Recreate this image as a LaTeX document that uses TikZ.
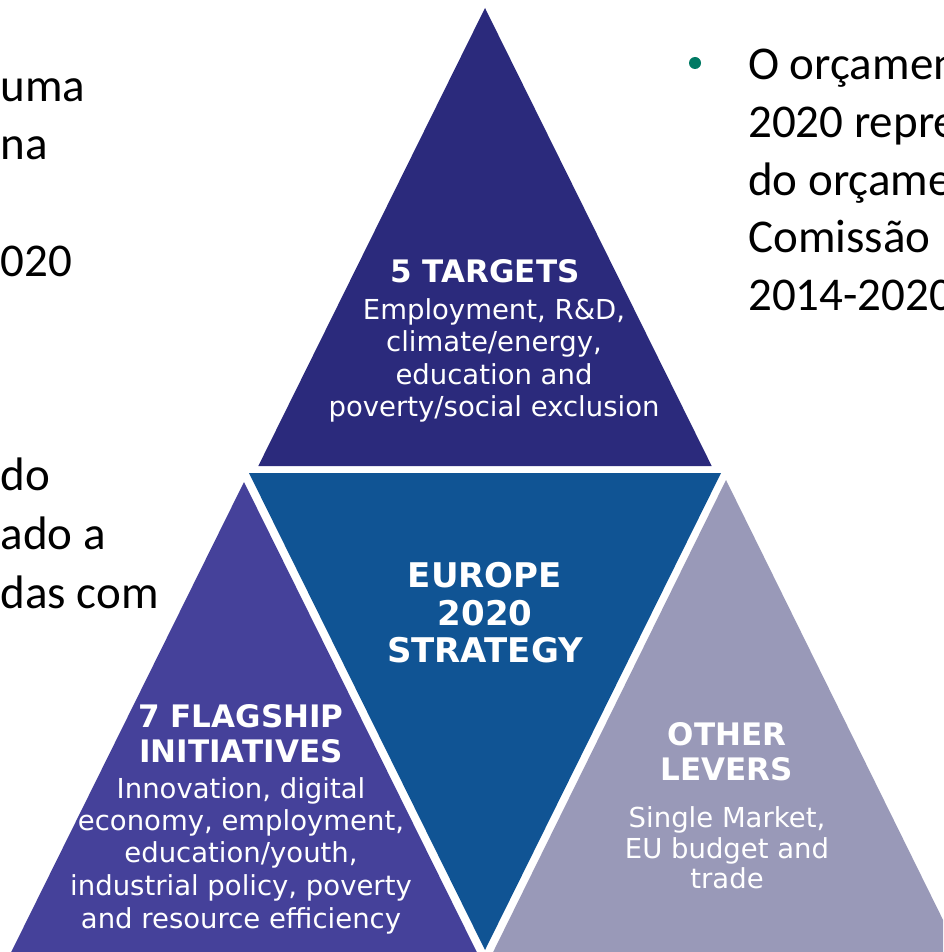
\documentclass[tikz,border=0pt]{standalone}
\usepackage{fontspec}
\setmainfont{Carlito}
\newfontfamily\dejavu{DejaVu Sans}
\definecolor{topc}{RGB}{43,42,124}
\definecolor{midc}{RGB}{16,84,148}
\definecolor{leftc}{RGB}{69,65,154}
\definecolor{rightc}{RGB}{153,153,184}
\definecolor{bulletc}{RGB}{0,122,100}
\tikzset{
  head/.style={anchor=base,inner sep=0pt,text=white,font=\dejavu\bfseries\fontsize{31}{37}\selectfont},
  midhead/.style={anchor=base,inner sep=0pt,text=white,font=\dejavu\bfseries\fontsize{34}{38}\selectfont},
  body/.style={anchor=base,inner sep=0pt,text=white,font=\dejavu\fontsize{27.5}{32}\selectfont},
  lefttxt/.style={anchor=base west,inner sep=0pt,text=black,font=\fontsize{47}{58}\selectfont},
  righttxt/.style={anchor=base west,inner sep=0pt,text=black,font=\fontsize{47}{58}\selectfont}
}
\begin{document}
\begin{tikzpicture}[x=1pt,y=-1pt]
\clip (0,0) rectangle (943,952);
\fill[white] (0,0) rectangle (943,952);
% triangles
\fill[topc] (485,8) -- (711.7,466) -- (258.3,466) -- cycle;
\fill[midc] (249,473) -- (721,473) -- (485,950) -- cycle;
\fill[leftc] (244,482) -- (504,1007) -- (-16,1007) -- cycle;
\fill[rightc] (726,480) -- (986,1007) -- (466,1007) -- cycle;
% top triangle text
\node[head] (th) at (485,282) {5 TARGETS};
\foreach \t/\y [count=\i] in {{Employment, R\&D,}/319,{climate/energy,}/351,{education and}/384,{poverty/social exclusion}/416}
  \node[body] (tb\i) at (494,\y) {\t};
% middle
\node[midhead] (m1) at (485,587) {EUROPE};
\node[midhead] (m2) at (485,625) {2020};
\node[midhead] (m3) at (485,662) {STRATEGY};
% left triangle
\node[head] (lh1) at (241,727) {7 FLAGSHIP};
\node[head] (lh2) at (241,762) {INITIATIVES};
\foreach \t/\y [count=\i] in {{Innovation, digital}/798,{economy, employment,}/830,{education/youth,}/862,{industrial policy, poverty}/895,{and resource efficiency}/928}
  \node[body] (lb\i) at (241,\y) {\t};
% right triangle
\node[head] (rh1) at (727,745) {OTHER};
\node[head] (rh2) at (727,780) {LEVERS};
\foreach \t/\y [count=\i] in {{Single Market,}/827,{EU budget and}/858,{trade}/888}
  \node[body] (rb\i) at (727,\y) {\t};
% left slide text fragments
\node[lefttxt] (l1) at (0.5,102) {uma};
\node[lefttxt] (l2) at (0.5,160) {na};
\node[lefttxt] (l3) at (0.5,276) {020};
\node[lefttxt] (l4) at (0.5,490) {do};
\node[lefttxt] (l5) at (0.5,549) {ado a};
\node[lefttxt] (l6) at (0.5,608) {das com};
% right slide text
\node[circle,fill=bulletc,minimum size=12pt,inner sep=0pt] (bul) at (695,63) {};
\node[righttxt] (r1) at (748,80) {O orçamen};
\node[righttxt] (r2) at (748,137.5) {2020 repre};
\node[righttxt] (r3) at (748,195) {do orçame};
\node[righttxt] (r4) at (748,252.5) {Comissão};
\node[righttxt] (r5) at (748,310) {2014-2020};
\end{tikzpicture}
\end{document}
